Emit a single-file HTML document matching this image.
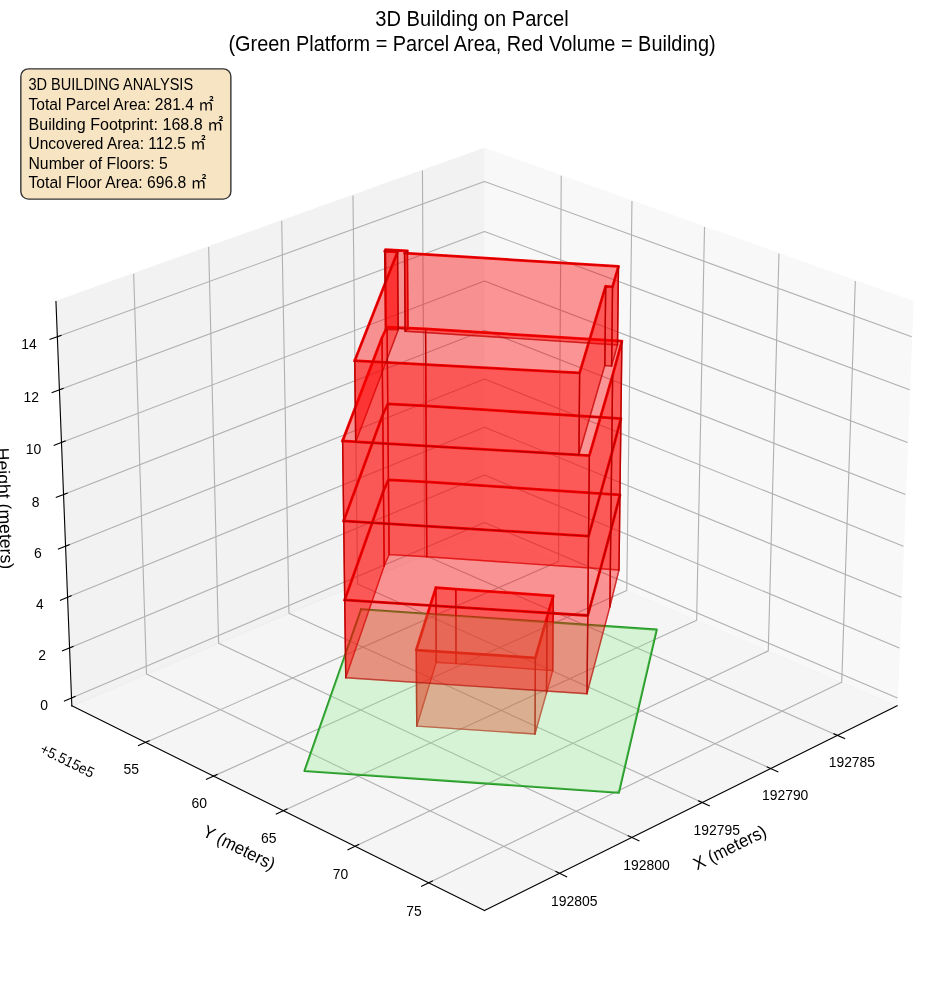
<!DOCTYPE html>
<html lang="en">
<head>
<meta charset="utf-8">
<title>3D Building on Parcel</title>
<style>
html,body{margin:0;padding:0;background:#fff;}
body{width:944px;height:992px;overflow:hidden;}
svg{display:block;position:absolute;left:0;top:0;}
.lbl text{font-family:"Liberation Sans", "Noto Sans CJK JP", sans-serif;fill:#000;white-space:pre;}
</style>
</head>
<body>
<svg width="944" height="992" viewBox="0 0 679.68 714.24">
<defs>
  <style type="text/css">*{stroke-linejoin: round; stroke-linecap: butt}</style>
 </defs>
 <g>
  <g>
   <path d="M 0 714.24 L 679.68 714.24 L 679.68 0 L 0 0 z" style="fill: #ffffff"/>
  </g>
  <g>
   <path d="M 7.2 707.04 L 672.48 707.04 L 672.48 41.76 L 7.2 41.76 z" style="fill: #ffffff"/>
  </g>
  <g>
   <g>
    <path d="M 348.83 381.45 L 645.94 508.21 L 657.37 217.11 L 348.83 106.83" style="fill: #f2f2f2; opacity: 0.5; stroke: #f2f2f2; stroke-linejoin: miter"/>
   </g>
  </g>
  <g>
   <g>
    <path d="M 348.83 381.45 L 51.72 508.21 L 40.29 217.11 L 348.83 106.83" style="fill: #e6e6e6; opacity: 0.5; stroke: #e6e6e6; stroke-linejoin: miter"/>
   </g>
  </g>
  <g>
   <g>
    <path d="M 348.83 381.45 L 51.72 508.21 L 348.83 655.5 L 645.94 508.21" style="fill: #ececec; opacity: 0.5; stroke: #ececec; stroke-linejoin: miter"/>
   </g>
  </g>
  <g>
   <g>
    <path d="M 603.04 529.48 L 305.72 399.84 L 304.16 122.79" style="fill: none; stroke: #b0b0b0; stroke-width: 0.8"/>
    <path d="M 554.93 553.33 L 257.47 420.43 L 254.13 140.68" style="fill: none; stroke: #b0b0b0; stroke-width: 0.8"/>
    <path d="M 505.57 577.8 L 208.04 441.52 L 202.83 159.01" style="fill: none; stroke: #b0b0b0; stroke-width: 0.8"/>
    <path d="M 454.89 602.93 L 157.39 463.13 L 150.22 177.82" style="fill: none; stroke: #b0b0b0; stroke-width: 0.8"/>
    <path d="M 402.84 628.73 L 105.48 485.28 L 96.24 197.11" style="fill: none; stroke: #b0b0b0; stroke-width: 0.8"/>
   </g>
  </g>
  <g>
   <g>
    <path d="M 404.09 126.58 L 402.16 404.2 L 104.8 534.53" style="fill: none; stroke: #b0b0b0; stroke-width: 0.8"/>
    <path d="M 455.01 144.78 L 451.26 425.15 L 153.77 558.81" style="fill: none; stroke: #b0b0b0; stroke-width: 0.8"/>
    <path d="M 507.25 163.45 L 501.58 446.62 L 204.05 583.73" style="fill: none; stroke: #b0b0b0; stroke-width: 0.8"/>
    <path d="M 560.84 182.61 L 553.16 468.63 L 255.69 609.33" style="fill: none; stroke: #b0b0b0; stroke-width: 0.8"/>
    <path d="M 615.84 202.27 L 606.04 491.19 L 308.74 635.63" style="fill: none; stroke: #b0b0b0; stroke-width: 0.8"/>
   </g>
  </g>
  <g>
   <g>
    <path d="M 51.5 502.6 L 348.83 376.14 L 646.16 502.6" style="fill: none; stroke: #b0b0b0; stroke-width: 0.8"/>
    <path d="M 50.08 466.5 L 348.83 342 L 647.58 466.5" style="fill: none; stroke: #b0b0b0; stroke-width: 0.8"/>
    <path d="M 48.65 430.05 L 348.83 307.56 L 649.01 430.05" style="fill: none; stroke: #b0b0b0; stroke-width: 0.8"/>
    <path d="M 47.2 393.24 L 348.83 272.81 L 650.46 393.24" style="fill: none; stroke: #b0b0b0; stroke-width: 0.8"/>
    <path d="M 45.75 356.09 L 348.83 237.75 L 651.91 356.09" style="fill: none; stroke: #b0b0b0; stroke-width: 0.8"/>
    <path d="M 44.27 318.57 L 348.83 202.37 L 653.39 318.57" style="fill: none; stroke: #b0b0b0; stroke-width: 0.8"/>
    <path d="M 42.79 280.68 L 348.83 166.67 L 654.87 280.68" style="fill: none; stroke: #b0b0b0; stroke-width: 0.8"/>
    <path d="M 41.28 242.42 L 348.83 130.65 L 656.38 242.42" style="fill: none; stroke: #b0b0b0; stroke-width: 0.8"/>
   </g>
  </g>
  <g>
   <g>
    <path d="M 645.94 508.21 L 348.83 655.5" style="fill: none; stroke: #000000; stroke-width: 0.8; stroke-linecap: square"/>
   </g>
   <g>
    <g>
     <path d="M 600.48 528.37 L 608.16 531.72" style="fill: none; stroke: #000000; stroke-width: 0.8; stroke-linecap: square"/>
    </g>
    </g>
   <g>
    <g>
     <path d="M 552.37 552.19 L 560.07 555.62" style="fill: none; stroke: #000000; stroke-width: 0.8; stroke-linecap: square"/>
    </g>
    </g>
   <g>
    <g>
     <path d="M 503 576.63 L 510.7 580.16" style="fill: none; stroke: #000000; stroke-width: 0.8; stroke-linecap: square"/>
    </g>
    </g>
   <g>
    <g>
     <path d="M 452.32 601.72 L 460.03 605.34" style="fill: none; stroke: #000000; stroke-width: 0.8; stroke-linecap: square"/>
    </g>
    </g>
   <g>
    <g>
     <path d="M 400.27 627.49 L 407.98 631.21" style="fill: none; stroke: #000000; stroke-width: 0.8; stroke-linecap: square"/>
    </g>
    </g>
   </g>
  <g>
   <g>
    <path d="M 51.72 508.21 L 348.83 655.5" style="fill: none; stroke: #000000; stroke-width: 0.8; stroke-linecap: square"/>
   </g>
   <g>
    <g>
     <path d="M 107.36 533.41 L 99.67 536.77" style="fill: none; stroke: #000000; stroke-width: 0.8; stroke-linecap: square"/>
    </g>
    </g>
   <g>
    <g>
     <path d="M 156.33 557.65 L 148.64 561.11" style="fill: none; stroke: #000000; stroke-width: 0.8; stroke-linecap: square"/>
    </g>
    </g>
   <g>
    <g>
     <path d="M 206.61 582.55 L 198.91 586.1" style="fill: none; stroke: #000000; stroke-width: 0.8; stroke-linecap: square"/>
    </g>
    </g>
   <g>
    <g>
     <path d="M 258.25 608.11 L 250.54 611.76" style="fill: none; stroke: #000000; stroke-width: 0.8; stroke-linecap: square"/>
    </g>
    </g>
   <g>
    <g>
     <path d="M 311.31 634.38 L 303.59 638.13" style="fill: none; stroke: #000000; stroke-width: 0.8; stroke-linecap: square"/>
    </g>
    </g>
   </g>
  <g>
   <g>
    <path d="M 51.72 508.21 L 40.29 217.11" style="fill: none; stroke: #000000; stroke-width: 0.8; stroke-linecap: square"/>
   </g>
   <g>
    <g>
     <path d="M 54.05 501.52 L 46.38 504.78" style="fill: none; stroke: #000000; stroke-width: 0.8; stroke-linecap: square"/>
    </g>
    </g>
   <g>
    <g>
     <path d="M 52.65 465.43 L 44.93 468.64" style="fill: none; stroke: #000000; stroke-width: 0.8; stroke-linecap: square"/>
    </g>
    </g>
   <g>
    <g>
     <path d="M 51.23 428.99 L 43.48 432.16" style="fill: none; stroke: #000000; stroke-width: 0.8; stroke-linecap: square"/>
    </g>
    </g>
   <g>
    <g>
     <path d="M 49.8 392.21 L 42.01 395.32" style="fill: none; stroke: #000000; stroke-width: 0.8; stroke-linecap: square"/>
    </g>
    </g>
   <g>
    <g>
     <path d="M 48.35 355.07 L 40.52 358.13" style="fill: none; stroke: #000000; stroke-width: 0.8; stroke-linecap: square"/>
    </g>
    </g>
   <g>
    <g>
     <path d="M 46.9 317.57 L 39.02 320.57" style="fill: none; stroke: #000000; stroke-width: 0.8; stroke-linecap: square"/>
    </g>
    </g>
   <g>
    <g>
     <path d="M 45.42 279.7 L 37.51 282.65" style="fill: none; stroke: #000000; stroke-width: 0.8; stroke-linecap: square"/>
    </g>
    </g>
   <g>
    <g>
     <path d="M 43.93 241.46 L 35.98 244.35" style="fill: none; stroke: #000000; stroke-width: 0.8; stroke-linecap: square"/>
    </g>
    </g>
   </g>
  <g>
   <g>
    <path d="M 260.04 438.63 L 472.84 453.31 L 445.57 570.74 L 219.23 555.08 L 260.04 438.63" clip-path="url(#p6d80880399)" style="fill: none; stroke: #229622; stroke-width: 1.5; stroke-linecap: square"/>
   </g>
   <g>
    <path d="M 313.83 423.17 L 328.2 424.09 L 398.32 429.06 L 393.82 444.65 L 385.47 473.64 L 299.71 468.03 L 313.83 423.17" clip-path="url(#p6d80880399)" style="fill: none; stroke: #ff0000; stroke-width: 2; stroke-linecap: square"/>
   </g>
   <g>
    <path d="M 248.2 431.99 L 276.1 353.48 L 279.67 345.5 L 307 346.98 L 446.37 356.25 L 439.76 382.17 L 423.2 443.16 L 248.2 431.99" clip-path="url(#p6d80880399)" style="fill: none; stroke: #ff0000; stroke-width: 2; stroke-linecap: square"/>
   </g>
   <g>
    <path d="M 247.45 375.13 L 275.59 298.64 L 279.18 290.86 L 306.71 292.31 L 447.06 301.34 L 440.41 326.59 L 423.75 386.01 L 247.45 375.13" clip-path="url(#p6d80880399)" style="fill: none; stroke: #ff0000; stroke-width: 2; stroke-linecap: square"/>
   </g>
   <g>
    <path d="M 246.69 317.41 L 275.06 243.01 L 278.68 235.45 L 306.41 236.86 L 447.76 245.64 L 441.08 270.19 L 424.32 328 L 246.69 317.41" clip-path="url(#p6d80880399)" style="fill: none; stroke: #ff0000; stroke-width: 2; stroke-linecap: square"/>
   </g>
   <g>
    <path d="M 255.4 259.72 L 286.26 181.26 L 277.01 180.99 L 277.53 179.76 L 293.36 180.69 L 291.28 182.21 L 445.31 191.82 L 441.02 206.51 L 436.09 206.11 L 417.33 268.52 L 255.4 259.72" clip-path="url(#p6d80880399)" style="fill: none; stroke: #ff0000; stroke-width: 2; stroke-linecap: square"/>
   </g>
   <g>
    <path d="M 314.08 476.86 L 328.35 477.8 L 397.97 482.89 L 393.5 498.85 L 385.21 528.52 L 300.06 522.78 L 314.08 476.86" clip-path="url(#p6d80880399)" style="fill: none; stroke: #ff0000; stroke-opacity: 0.6; stroke-linecap: square"/>
   </g>
   <g>
    <path d="M 314.08 476.86 L 313.83 423.17" clip-path="url(#p6d80880399)" style="fill: none; stroke: #ff0000; stroke-linecap: square"/>
   </g>
   <g>
    <path d="M 328.35 477.8 L 328.2 424.09" clip-path="url(#p6d80880399)" style="fill: none; stroke: #ff0000; stroke-linecap: square"/>
   </g>
   <g>
    <path d="M 397.97 482.89 L 398.32 429.06" clip-path="url(#p6d80880399)" style="fill: none; stroke: #ff0000; stroke-linecap: square"/>
   </g>
   <g>
    <path d="M 393.5 498.85 L 393.82 444.65" clip-path="url(#p6d80880399)" style="fill: none; stroke: #ff0000; stroke-linecap: square"/>
   </g>
   <g>
    <path d="M 385.21 528.52 L 385.47 473.64" clip-path="url(#p6d80880399)" style="fill: none; stroke: #ff0000; stroke-linecap: square"/>
   </g>
   <g>
    <path d="M 300.06 522.78 L 299.71 468.03" clip-path="url(#p6d80880399)" style="fill: none; stroke: #ff0000; stroke-linecap: square"/>
   </g>
   <g>
    <path d="M 248.94 488.02 L 276.61 407.55 L 280.15 399.37 L 307.29 400.89 L 445.68 410.4 L 439.11 436.97 L 422.65 499.46 L 248.94 488.02" clip-path="url(#p6d80880399)" style="fill: none; stroke: #ff0000; stroke-opacity: 0.6; stroke-linecap: square"/>
   </g>
   <g>
    <path d="M 248.94 488.02 L 248.2 431.99" clip-path="url(#p6d80880399)" style="fill: none; stroke: #ff0000; stroke-linecap: square"/>
   </g>
   <g>
    <path d="M 276.61 407.55 L 276.1 353.48" clip-path="url(#p6d80880399)" style="fill: none; stroke: #ff0000; stroke-linecap: square"/>
   </g>
   <g>
    <path d="M 280.15 399.37 L 279.67 345.5" clip-path="url(#p6d80880399)" style="fill: none; stroke: #ff0000; stroke-linecap: square"/>
   </g>
   <g>
    <path d="M 307.29 400.89 L 307 346.98" clip-path="url(#p6d80880399)" style="fill: none; stroke: #ff0000; stroke-linecap: square"/>
   </g>
   <g>
    <path d="M 445.68 410.4 L 446.37 356.25" clip-path="url(#p6d80880399)" style="fill: none; stroke: #ff0000; stroke-linecap: square"/>
   </g>
   <g>
    <path d="M 439.11 436.97 L 439.76 382.17" clip-path="url(#p6d80880399)" style="fill: none; stroke: #ff0000; stroke-linecap: square"/>
   </g>
   <g>
    <path d="M 422.65 499.46 L 423.2 443.16" clip-path="url(#p6d80880399)" style="fill: none; stroke: #ff0000; stroke-linecap: square"/>
   </g>
   <g>
    <path d="M 248.2 431.99 L 276.1 353.48 L 279.67 345.5 L 307 346.98 L 446.37 356.25 L 439.76 382.17 L 423.2 443.16 L 248.2 431.99" clip-path="url(#p6d80880399)" style="fill: none; stroke: #ff0000; stroke-opacity: 0.6; stroke-linecap: square"/>
   </g>
   <g>
    <path d="M 248.2 431.99 L 247.45 375.13" clip-path="url(#p6d80880399)" style="fill: none; stroke: #ff0000; stroke-linecap: square"/>
   </g>
   <g>
    <path d="M 276.1 353.48 L 275.59 298.64" clip-path="url(#p6d80880399)" style="fill: none; stroke: #ff0000; stroke-linecap: square"/>
   </g>
   <g>
    <path d="M 279.67 345.5 L 279.18 290.86" clip-path="url(#p6d80880399)" style="fill: none; stroke: #ff0000; stroke-linecap: square"/>
   </g>
   <g>
    <path d="M 307 346.98 L 306.71 292.31" clip-path="url(#p6d80880399)" style="fill: none; stroke: #ff0000; stroke-linecap: square"/>
   </g>
   <g>
    <path d="M 446.37 356.25 L 447.06 301.34" clip-path="url(#p6d80880399)" style="fill: none; stroke: #ff0000; stroke-linecap: square"/>
   </g>
   <g>
    <path d="M 439.76 382.17 L 440.41 326.59" clip-path="url(#p6d80880399)" style="fill: none; stroke: #ff0000; stroke-linecap: square"/>
   </g>
   <g>
    <path d="M 423.2 443.16 L 423.75 386.01" clip-path="url(#p6d80880399)" style="fill: none; stroke: #ff0000; stroke-linecap: square"/>
   </g>
   <g>
    <path d="M 247.45 375.13 L 275.59 298.64 L 279.18 290.86 L 306.71 292.31 L 447.06 301.34 L 440.41 326.59 L 423.75 386.01 L 247.45 375.13" clip-path="url(#p6d80880399)" style="fill: none; stroke: #ff0000; stroke-opacity: 0.6; stroke-linecap: square"/>
   </g>
   <g>
    <path d="M 247.45 375.13 L 246.69 317.41" clip-path="url(#p6d80880399)" style="fill: none; stroke: #ff0000; stroke-linecap: square"/>
   </g>
   <g>
    <path d="M 275.59 298.64 L 275.06 243.01" clip-path="url(#p6d80880399)" style="fill: none; stroke: #ff0000; stroke-linecap: square"/>
   </g>
   <g>
    <path d="M 279.18 290.86 L 278.68 235.45" clip-path="url(#p6d80880399)" style="fill: none; stroke: #ff0000; stroke-linecap: square"/>
   </g>
   <g>
    <path d="M 306.71 292.31 L 306.41 236.86" clip-path="url(#p6d80880399)" style="fill: none; stroke: #ff0000; stroke-linecap: square"/>
   </g>
   <g>
    <path d="M 447.06 301.34 L 447.76 245.64" clip-path="url(#p6d80880399)" style="fill: none; stroke: #ff0000; stroke-linecap: square"/>
   </g>
   <g>
    <path d="M 440.41 326.59 L 441.08 270.19" clip-path="url(#p6d80880399)" style="fill: none; stroke: #ff0000; stroke-linecap: square"/>
   </g>
   <g>
    <path d="M 423.75 386.01 L 424.32 328" clip-path="url(#p6d80880399)" style="fill: none; stroke: #ff0000; stroke-linecap: square"/>
   </g>
   <g>
    <path d="M 256.1 318.33 L 286.7 237.52 L 277.52 237.25 L 278.04 235.98 L 293.75 236.93 L 291.69 238.51 L 444.62 248.41 L 440.35 263.54 L 435.46 263.12 L 416.82 327.39 L 256.1 318.33" clip-path="url(#p6d80880399)" style="fill: none; stroke: #ff0000; stroke-opacity: 0.6; stroke-linecap: square"/>
   </g>
   <g>
    <path d="M 256.1 318.33 L 255.4 259.72" clip-path="url(#p6d80880399)" style="fill: none; stroke: #ff0000; stroke-linecap: square"/>
   </g>
   <g>
    <path d="M 286.7 237.52 L 286.26 181.26" clip-path="url(#p6d80880399)" style="fill: none; stroke: #ff0000; stroke-linecap: square"/>
   </g>
   <g>
    <path d="M 277.52 237.25 L 277.01 180.99" clip-path="url(#p6d80880399)" style="fill: none; stroke: #ff0000; stroke-linecap: square"/>
   </g>
   <g>
    <path d="M 278.04 235.98 L 277.53 179.76" clip-path="url(#p6d80880399)" style="fill: none; stroke: #ff0000; stroke-linecap: square"/>
   </g>
   <g>
    <path d="M 293.75 236.93 L 293.36 180.69" clip-path="url(#p6d80880399)" style="fill: none; stroke: #ff0000; stroke-linecap: square"/>
   </g>
   <g>
    <path d="M 291.69 238.51 L 291.28 182.21" clip-path="url(#p6d80880399)" style="fill: none; stroke: #ff0000; stroke-linecap: square"/>
   </g>
   <g>
    <path d="M 444.62 248.41 L 445.31 191.82" clip-path="url(#p6d80880399)" style="fill: none; stroke: #ff0000; stroke-linecap: square"/>
   </g>
   <g>
    <path d="M 440.35 263.54 L 441.02 206.51" clip-path="url(#p6d80880399)" style="fill: none; stroke: #ff0000; stroke-linecap: square"/>
   </g>
   <g>
    <path d="M 435.46 263.12 L 436.09 206.11" clip-path="url(#p6d80880399)" style="fill: none; stroke: #ff0000; stroke-linecap: square"/>
   </g>
   <g>
    <path d="M 416.82 327.39 L 417.33 268.52" clip-path="url(#p6d80880399)" style="fill: none; stroke: #ff0000; stroke-linecap: square"/>
   </g>
   <g>
    <path d="M 314.08 476.86 L 328.35 477.8 L 328.2 424.09 L 313.83 423.17 z" clip-path="url(#p6d80880399)" style="fill: #ff0000; fill-opacity: 0.4; stroke: #8b0000; stroke-opacity: 0.4"/>
    <path d="M 328.35 477.8 L 397.97 482.89 L 398.32 429.06 L 328.2 424.09 z" clip-path="url(#p6d80880399)" style="fill: #ff0000; fill-opacity: 0.4; stroke: #8b0000; stroke-opacity: 0.4"/>
    <path d="M 397.97 482.89 L 393.5 498.85 L 393.82 444.65 L 398.32 429.06 z" clip-path="url(#p6d80880399)" style="fill: #ff0000; fill-opacity: 0.4; stroke: #8b0000; stroke-opacity: 0.4"/>
    <path d="M 300.06 522.78 L 314.08 476.86 L 313.83 423.17 L 299.71 468.03 z" clip-path="url(#p6d80880399)" style="fill: #ff0000; fill-opacity: 0.4; stroke: #8b0000; stroke-opacity: 0.4"/>
    <path d="M 393.5 498.85 L 385.21 528.52 L 385.47 473.64 L 393.82 444.65 z" clip-path="url(#p6d80880399)" style="fill: #ff0000; fill-opacity: 0.4; stroke: #8b0000; stroke-opacity: 0.4"/>
    <path d="M 385.21 528.52 L 300.06 522.78 L 299.71 468.03 L 385.47 473.64 z" clip-path="url(#p6d80880399)" style="fill: #ff0000; fill-opacity: 0.4; stroke: #8b0000; stroke-opacity: 0.4"/>
   </g>
   <g>
    <path d="M 260.04 438.63 L 472.84 453.31 L 445.57 570.74 L 219.23 555.08 z" clip-path="url(#p6d80880399)" style="fill: #90ee90; fill-opacity: 0.3"/>
   </g>
   <g>
    <path d="M 280.15 399.37 L 307.29 400.89 L 307 346.98 L 279.67 345.5 z" clip-path="url(#p6d80880399)" style="fill: #ff0000; fill-opacity: 0.4; stroke: #8b0000; stroke-opacity: 0.4"/>
    <path d="M 276.61 407.55 L 280.15 399.37 L 279.67 345.5 L 276.1 353.48 z" clip-path="url(#p6d80880399)" style="fill: #ff0000; fill-opacity: 0.4; stroke: #8b0000; stroke-opacity: 0.4"/>
    <path d="M 307.29 400.89 L 445.68 410.4 L 446.37 356.25 L 307 346.98 z" clip-path="url(#p6d80880399)" style="fill: #ff0000; fill-opacity: 0.4; stroke: #8b0000; stroke-opacity: 0.4"/>
    <path d="M 445.68 410.4 L 439.11 436.97 L 439.76 382.17 L 446.37 356.25 z" clip-path="url(#p6d80880399)" style="fill: #ff0000; fill-opacity: 0.4; stroke: #8b0000; stroke-opacity: 0.4"/>
    <path d="M 248.94 488.02 L 276.61 407.55 L 276.1 353.48 L 248.2 431.99 z" clip-path="url(#p6d80880399)" style="fill: #ff0000; fill-opacity: 0.4; stroke: #8b0000; stroke-opacity: 0.4"/>
    <path d="M 439.11 436.97 L 422.65 499.46 L 423.2 443.16 L 439.76 382.17 z" clip-path="url(#p6d80880399)" style="fill: #ff0000; fill-opacity: 0.4; stroke: #8b0000; stroke-opacity: 0.4"/>
    <path d="M 422.65 499.46 L 248.94 488.02 L 248.2 431.99 L 423.2 443.16 z" clip-path="url(#p6d80880399)" style="fill: #ff0000; fill-opacity: 0.4; stroke: #8b0000; stroke-opacity: 0.4"/>
   </g>
   <g>
    <path d="M 279.67 345.5 L 307 346.98 L 306.71 292.31 L 279.18 290.86 z" clip-path="url(#p6d80880399)" style="fill: #ff0000; fill-opacity: 0.4; stroke: #8b0000; stroke-opacity: 0.4"/>
    <path d="M 276.1 353.48 L 279.67 345.5 L 279.18 290.86 L 275.59 298.64 z" clip-path="url(#p6d80880399)" style="fill: #ff0000; fill-opacity: 0.4; stroke: #8b0000; stroke-opacity: 0.4"/>
    <path d="M 307 346.98 L 446.37 356.25 L 447.06 301.34 L 306.71 292.31 z" clip-path="url(#p6d80880399)" style="fill: #ff0000; fill-opacity: 0.4; stroke: #8b0000; stroke-opacity: 0.4"/>
    <path d="M 446.37 356.25 L 439.76 382.17 L 440.41 326.59 L 447.06 301.34 z" clip-path="url(#p6d80880399)" style="fill: #ff0000; fill-opacity: 0.4; stroke: #8b0000; stroke-opacity: 0.4"/>
    <path d="M 248.2 431.99 L 276.1 353.48 L 275.59 298.64 L 247.45 375.13 z" clip-path="url(#p6d80880399)" style="fill: #ff0000; fill-opacity: 0.4; stroke: #8b0000; stroke-opacity: 0.4"/>
    <path d="M 439.76 382.17 L 423.2 443.16 L 423.75 386.01 L 440.41 326.59 z" clip-path="url(#p6d80880399)" style="fill: #ff0000; fill-opacity: 0.4; stroke: #8b0000; stroke-opacity: 0.4"/>
    <path d="M 423.2 443.16 L 248.2 431.99 L 247.45 375.13 L 423.75 386.01 z" clip-path="url(#p6d80880399)" style="fill: #ff0000; fill-opacity: 0.4; stroke: #8b0000; stroke-opacity: 0.4"/>
   </g>
   <g>
    <path d="M 279.18 290.86 L 306.71 292.31 L 306.41 236.86 L 278.68 235.45 z" clip-path="url(#p6d80880399)" style="fill: #ff0000; fill-opacity: 0.4; stroke: #8b0000; stroke-opacity: 0.4"/>
    <path d="M 275.59 298.64 L 279.18 290.86 L 278.68 235.45 L 275.06 243.01 z" clip-path="url(#p6d80880399)" style="fill: #ff0000; fill-opacity: 0.4; stroke: #8b0000; stroke-opacity: 0.4"/>
    <path d="M 306.71 292.31 L 447.06 301.34 L 447.76 245.64 L 306.41 236.86 z" clip-path="url(#p6d80880399)" style="fill: #ff0000; fill-opacity: 0.4; stroke: #8b0000; stroke-opacity: 0.4"/>
    <path d="M 447.06 301.34 L 440.41 326.59 L 441.08 270.19 L 447.76 245.64 z" clip-path="url(#p6d80880399)" style="fill: #ff0000; fill-opacity: 0.4; stroke: #8b0000; stroke-opacity: 0.4"/>
    <path d="M 247.45 375.13 L 275.59 298.64 L 275.06 243.01 L 246.69 317.41 z" clip-path="url(#p6d80880399)" style="fill: #ff0000; fill-opacity: 0.4; stroke: #8b0000; stroke-opacity: 0.4"/>
    <path d="M 440.41 326.59 L 423.75 386.01 L 424.32 328 L 441.08 270.19 z" clip-path="url(#p6d80880399)" style="fill: #ff0000; fill-opacity: 0.4; stroke: #8b0000; stroke-opacity: 0.4"/>
    <path d="M 423.75 386.01 L 247.45 375.13 L 246.69 317.41 L 424.32 328 z" clip-path="url(#p6d80880399)" style="fill: #ff0000; fill-opacity: 0.4; stroke: #8b0000; stroke-opacity: 0.4"/>
   </g>
   <g>
    <path d="M 278.04 235.98 L 293.75 236.93 L 293.36 180.69 L 277.53 179.76 z" clip-path="url(#p6d80880399)" style="fill: #ff0000; fill-opacity: 0.4; stroke: #8b0000; stroke-opacity: 0.4"/>
    <path d="M 277.52 237.25 L 278.04 235.98 L 277.53 179.76 L 277.01 180.99 z" clip-path="url(#p6d80880399)" style="fill: #ff0000; fill-opacity: 0.4; stroke: #8b0000; stroke-opacity: 0.4"/>
    <path d="M 286.7 237.52 L 277.52 237.25 L 277.01 180.99 L 286.26 181.26 z" clip-path="url(#p6d80880399)" style="fill: #ff0000; fill-opacity: 0.4; stroke: #8b0000; stroke-opacity: 0.4"/>
    <path d="M 293.75 236.93 L 291.69 238.51 L 291.28 182.21 L 293.36 180.69 z" clip-path="url(#p6d80880399)" style="fill: #ff0000; fill-opacity: 0.4; stroke: #8b0000; stroke-opacity: 0.4"/>
    <path d="M 291.69 238.51 L 444.62 248.41 L 445.31 191.82 L 291.28 182.21 z" clip-path="url(#p6d80880399)" style="fill: #ff0000; fill-opacity: 0.4; stroke: #8b0000; stroke-opacity: 0.4"/>
    <path d="M 444.62 248.41 L 440.35 263.54 L 441.02 206.51 L 445.31 191.82 z" clip-path="url(#p6d80880399)" style="fill: #ff0000; fill-opacity: 0.4; stroke: #8b0000; stroke-opacity: 0.4"/>
    <path d="M 440.35 263.54 L 435.46 263.12 L 436.09 206.11 L 441.02 206.51 z" clip-path="url(#p6d80880399)" style="fill: #ff0000; fill-opacity: 0.4; stroke: #8b0000; stroke-opacity: 0.4"/>
    <path d="M 256.1 318.33 L 286.7 237.52 L 286.26 181.26 L 255.4 259.72 z" clip-path="url(#p6d80880399)" style="fill: #ff0000; fill-opacity: 0.4; stroke: #8b0000; stroke-opacity: 0.4"/>
    <path d="M 435.46 263.12 L 416.82 327.39 L 417.33 268.52 L 436.09 206.11 z" clip-path="url(#p6d80880399)" style="fill: #ff0000; fill-opacity: 0.4; stroke: #8b0000; stroke-opacity: 0.4"/>
    <path d="M 416.82 327.39 L 256.1 318.33 L 255.4 259.72 L 417.33 268.52 z" clip-path="url(#p6d80880399)" style="fill: #ff0000; fill-opacity: 0.4; stroke: #8b0000; stroke-opacity: 0.4"/>
   </g>
  </g>
 </g>
 <defs>
  <clipPath id="p6d80880399">
   <rect x="7.2" y="41.76" width="665.28" height="665.28"/>
  </clipPath>
 </defs>
<g class="lbl" transform="scale(0.72)">
<rect x="20.84" y="68.84" width="210.03" height="130.28" rx="7.64" ry="7.64" fill="#f5deb3" stroke="#000" stroke-width="1.389" opacity="0.8"/>
<text transform="translate(828.69 766.88)" font-size="15.56" textLength="46.38" lengthAdjust="spacingAndGlyphs">192785</text>
<text transform="translate(761.98 800.30)" font-size="15.56" textLength="46.38" lengthAdjust="spacingAndGlyphs">192790</text>
<text transform="translate(693.51 834.59)" font-size="15.56" textLength="46.38" lengthAdjust="spacingAndGlyphs">192795</text>
<text transform="translate(623.16 869.80)" font-size="15.56" textLength="46.50" lengthAdjust="spacingAndGlyphs">192800</text>
<text transform="translate(550.97 905.96)" font-size="15.56" textLength="46.50" lengthAdjust="spacingAndGlyphs">192805</text>
<text transform="translate(697.08 870.51) rotate(-26.369)" font-size="17.75" textLength="79.00" lengthAdjust="spacingAndGlyphs">X (meters)</text>
<text transform="translate(123.46 773.95)" font-size="15.56" textLength="15.50" lengthAdjust="spacingAndGlyphs">55</text>
<text transform="translate(191.38 807.97)" font-size="15.56" textLength="15.50" lengthAdjust="spacingAndGlyphs">60</text>
<text transform="translate(261.11 842.90)" font-size="15.56" textLength="15.50" lengthAdjust="spacingAndGlyphs">65</text>
<text transform="translate(332.79 878.77)" font-size="15.56" textLength="15.38" lengthAdjust="spacingAndGlyphs">70</text>
<text transform="translate(406.37 915.63)" font-size="15.56" textLength="15.38" lengthAdjust="spacingAndGlyphs">75</text>
<text transform="translate(39.07 752.30) rotate(-333.631)" font-size="14.79" textLength="58.12" lengthAdjust="spacingAndGlyphs">+5.515e5</text>
<text transform="translate(201.40 835.56) rotate(-333.631)" font-size="17.75" textLength="78.38" lengthAdjust="spacingAndGlyphs">Y (meters)</text>
<text transform="translate(40.24 710.06)" font-size="15.56" textLength="7.75" lengthAdjust="spacingAndGlyphs">0</text>
<text transform="translate(38.14 659.91)" font-size="15.56" textLength="7.75" lengthAdjust="spacingAndGlyphs">2</text>
<text transform="translate(36.08 609.29)" font-size="15.56" textLength="7.62" lengthAdjust="spacingAndGlyphs">4</text>
<text transform="translate(33.88 558.17)" font-size="15.56" textLength="7.75" lengthAdjust="spacingAndGlyphs">6</text>
<text transform="translate(31.72 506.56)" font-size="15.56" textLength="7.75" lengthAdjust="spacingAndGlyphs">8</text>
<text transform="translate(25.66 454.45)" font-size="15.56" textLength="15.50" lengthAdjust="spacingAndGlyphs">10</text>
<text transform="translate(23.46 401.84)" font-size="15.56" textLength="15.50" lengthAdjust="spacingAndGlyphs">12</text>
<text transform="translate(21.30 348.70)" font-size="15.56" textLength="15.38" lengthAdjust="spacingAndGlyphs">14</text>
<text transform="translate(-3.61 448.05) rotate(-272.248)" font-size="17.75" textLength="121.38" lengthAdjust="spacingAndGlyphs">Height (meters)</text>
<text transform="translate(28.48 90.48)" font-size="16.27" textLength="164.62" lengthAdjust="spacingAndGlyphs">3D BUILDING ANALYSIS</text>
<text transform="translate(28.48 110.08)" font-size="16.27" textLength="185.25" lengthAdjust="spacingAndGlyphs">Total Parcel Area: 281.4 ㎡</text>
<text transform="translate(28.48 129.68)" font-size="16.27" textLength="194.75" lengthAdjust="spacingAndGlyphs">Building Footprint: 168.8 ㎡</text>
<text transform="translate(28.48 149.28)" font-size="16.27" textLength="177.25" lengthAdjust="spacingAndGlyphs">Uncovered Area: 112.5 ㎡</text>
<text transform="translate(28.48 168.88)" font-size="16.27" textLength="139.38" lengthAdjust="spacingAndGlyphs">Number of Floors: 5</text>
<text transform="translate(28.48 188.48)" font-size="16.27" textLength="177.88" lengthAdjust="spacingAndGlyphs">Total Floor Area: 696.8 ㎡</text>
<text transform="translate(375.25 26.28)" font-size="21.39" textLength="193.50" lengthAdjust="spacingAndGlyphs">3D Building on Parcel</text>
<text transform="translate(228.38 50.67)" font-size="21.39" textLength="487.25" lengthAdjust="spacingAndGlyphs">(Green Platform = Parcel Area, Red Volume = Building)</text>
</g>
</svg>
</body>
</html>
